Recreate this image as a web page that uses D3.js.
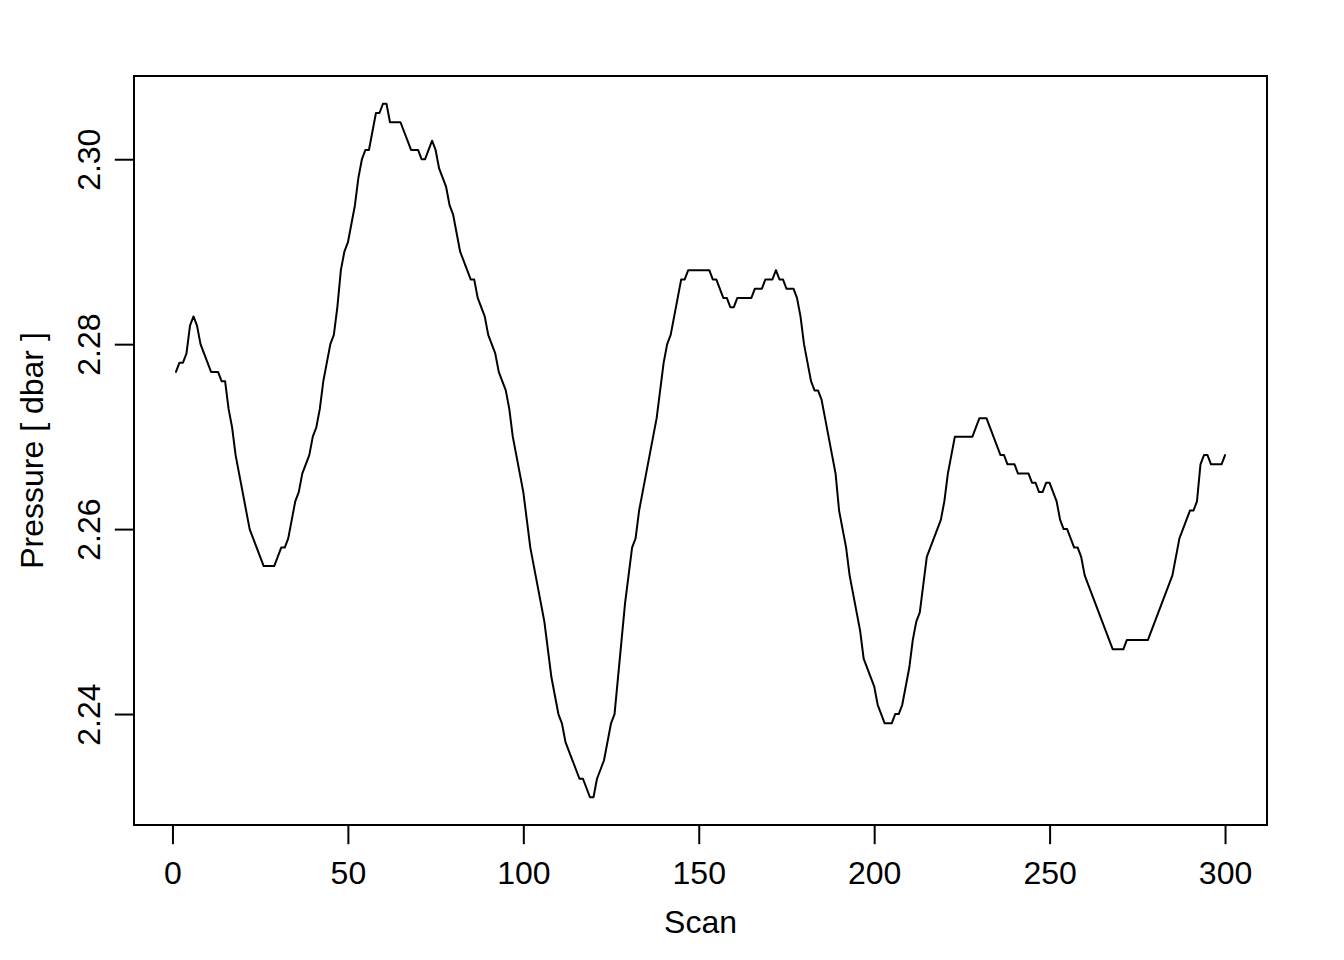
<!DOCTYPE html>
<html>
<head>
<meta charset="utf-8">
<script src="https://cdn.jsdelivr.net/npm/d3@7"></script>
<style>
  body { margin: 0; background: #fff; }
  svg text { font-family: 'Liberation Sans', Arial, Helvetica, sans-serif; }
</style>
</head>
<body>
<div id="chart"></div>
<script>
// pressure in dbar, one value per scan (scan number = position + 1)
const pressure = [
  2.277, 2.278, 2.278, 2.279, 2.282, 2.283, 2.282, 2.280, 2.279, 2.278,
  2.277, 2.277, 2.277, 2.276, 2.276, 2.273, 2.271, 2.268, 2.266, 2.264,
  2.262, 2.260, 2.259, 2.258, 2.257, 2.256, 2.256, 2.256, 2.256, 2.257,
  2.258, 2.258, 2.259, 2.261, 2.263, 2.264, 2.266, 2.267, 2.268, 2.270,
  2.271, 2.273, 2.276, 2.278, 2.280, 2.281, 2.284, 2.288, 2.290, 2.291,
  2.293, 2.295, 2.298, 2.300, 2.301, 2.301, 2.303, 2.305, 2.305, 2.306,
  2.306, 2.304, 2.304, 2.304, 2.304, 2.303, 2.302, 2.301, 2.301, 2.301,
  2.300, 2.300, 2.301, 2.302, 2.301, 2.299, 2.298, 2.297, 2.295, 2.294,
  2.292, 2.290, 2.289, 2.288, 2.287, 2.287, 2.285, 2.284, 2.283, 2.281,
  2.280, 2.279, 2.277, 2.276, 2.275, 2.273, 2.270, 2.268, 2.266, 2.264,
  2.261, 2.258, 2.256, 2.254, 2.252, 2.250, 2.247, 2.244, 2.242, 2.240,
  2.239, 2.237, 2.236, 2.235, 2.234, 2.233, 2.233, 2.232, 2.231, 2.231,
  2.233, 2.234, 2.235, 2.237, 2.239, 2.240, 2.244, 2.248, 2.252, 2.255,
  2.258, 2.259, 2.262, 2.264, 2.266, 2.268, 2.270, 2.272, 2.275, 2.278,
  2.280, 2.281, 2.283, 2.285, 2.287, 2.287, 2.288, 2.288, 2.288, 2.288,
  2.288, 2.288, 2.288, 2.287, 2.287, 2.286, 2.285, 2.285, 2.284, 2.284,
  2.285, 2.285, 2.285, 2.285, 2.285, 2.286, 2.286, 2.286, 2.287, 2.287,
  2.287, 2.288, 2.287, 2.287, 2.286, 2.286, 2.286, 2.285, 2.283, 2.280,
  2.278, 2.276, 2.275, 2.275, 2.274, 2.272, 2.270, 2.268, 2.266, 2.262,
  2.260, 2.258, 2.255, 2.253, 2.251, 2.249, 2.246, 2.245, 2.244, 2.243,
  2.241, 2.240, 2.239, 2.239, 2.239, 2.240, 2.240, 2.241, 2.243, 2.245,
  2.248, 2.250, 2.251, 2.254, 2.257, 2.258, 2.259, 2.260, 2.261, 2.263,
  2.266, 2.268, 2.270, 2.270, 2.270, 2.270, 2.270, 2.270, 2.271, 2.272,
  2.272, 2.272, 2.271, 2.270, 2.269, 2.268, 2.268, 2.267, 2.267, 2.267,
  2.266, 2.266, 2.266, 2.266, 2.265, 2.265, 2.264, 2.264, 2.265, 2.265,
  2.264, 2.263, 2.261, 2.260, 2.260, 2.259, 2.258, 2.258, 2.257, 2.255,
  2.254, 2.253, 2.252, 2.251, 2.250, 2.249, 2.248, 2.247, 2.247, 2.247,
  2.247, 2.248, 2.248, 2.248, 2.248, 2.248, 2.248, 2.248, 2.249, 2.250,
  2.251, 2.252, 2.253, 2.254, 2.255, 2.257, 2.259, 2.260, 2.261, 2.262,
  2.262, 2.263, 2.267, 2.268, 2.268, 2.267, 2.267, 2.267, 2.267, 2.268,
];

const xTicks = [0, 50, 100, 150, 200, 250, 300];
const yTicks = [2.24, 2.26, 2.28, 2.30];
const xTitle = 'Scan';
const yTitle = 'Pressure [ dbar ]';

const visualConfig = {
  area: { width: 1344, height: 960 },
  plot: { left: 134, right: 1267, top: 76, bottom: 825 },
  font: { size: 32 },
  tickLength: 19.2,
  stroke: { color: '#000', width: 2 },
};

const plot = visualConfig.plot;
const scan = (d, i) => i + 1;

// R style: data range padded by 4% on each side
function padded([lo, hi]) {
  const pad = (hi - lo) * 0.04;
  return [lo - pad, hi + pad];
}

const x = d3
  .scaleLinear()
  .domain(padded([1, pressure.length]))
  .range([plot.left, plot.right]);

const y = d3
  .scaleLinear()
  .domain(padded(d3.extent(pressure)))
  .range([plot.bottom, plot.top]);

const svg = d3
  .select('#chart')
  .append('svg')
  .attr('width', visualConfig.area.width)
  .attr('height', visualConfig.area.height);

svg
  .append('rect')
  .attr('width', visualConfig.area.width)
  .attr('height', visualConfig.area.height)
  .attr('fill', '#fff');

// the trace
const line = d3
  .line()
  .x((d, i) => x(scan(d, i)))
  .y((d) => y(d));

svg
  .append('path')
  .datum(pressure)
  .attr('d', line)
  .attr('fill', 'none')
  .attr('stroke', visualConfig.stroke.color)
  .attr('stroke-width', visualConfig.stroke.width)
  .attr('stroke-linejoin', 'round')
  .attr('stroke-linecap', 'round');

// axes
function styleAxis(g) {
  g.select('.domain').remove();
  g.selectAll('.tick line')
    .attr('stroke', visualConfig.stroke.color)
    .attr('stroke-width', visualConfig.stroke.width);
  g.selectAll('.tick text')
    .attr('fill', visualConfig.stroke.color)
    .attr('font-size', visualConfig.font.size)
    .attr('font-family', "'Liberation Sans', Arial, Helvetica, sans-serif");
}

const xAxis = svg
  .append('g')
  .attr('transform', `translate(0,${plot.bottom})`)
  .call(
    d3
      .axisBottom(x)
      .tickValues(xTicks)
      .tickSize(visualConfig.tickLength)
      .tickSizeOuter(0)
      .tickFormat(d3.format('d'))
  )
  .call(styleAxis);

xAxis.selectAll('.tick text').attr('y', 59).attr('dy', 0);

const yAxis = svg
  .append('g')
  .attr('transform', `translate(${plot.left},0)`)
  .call(
    d3
      .axisLeft(y)
      .tickValues(yTicks)
      .tickSize(visualConfig.tickLength)
      .tickSizeOuter(0)
      .tickFormat(d3.format('.2f'))
  )
  .call(styleAxis);

// labels run along the axis, as in R
yAxis
  .selectAll('.tick text')
  .attr('transform', 'rotate(-90)')
  .attr('x', 0)
  .attr('y', -34)
  .attr('dy', 0)
  .attr('text-anchor', 'middle');

// plot frame
svg
  .append('rect')
  .attr('x', plot.left)
  .attr('y', plot.top)
  .attr('width', plot.right - plot.left)
  .attr('height', plot.bottom - plot.top)
  .attr('fill', 'none')
  .attr('stroke', visualConfig.stroke.color)
  .attr('stroke-width', visualConfig.stroke.width);

// axis titles
svg
  .append('text')
  .attr('x', (plot.left + plot.right) / 2)
  .attr('y', 933)
  .attr('text-anchor', 'middle')
  .attr('font-size', visualConfig.font.size)
  .text(xTitle);

svg
  .append('text')
  .attr('transform', `translate(43,${(plot.top + plot.bottom) / 2}) rotate(-90)`)
  .attr('text-anchor', 'middle')
  .attr('font-size', visualConfig.font.size)
  .text(yTitle);
</script>
</body>
</html>
